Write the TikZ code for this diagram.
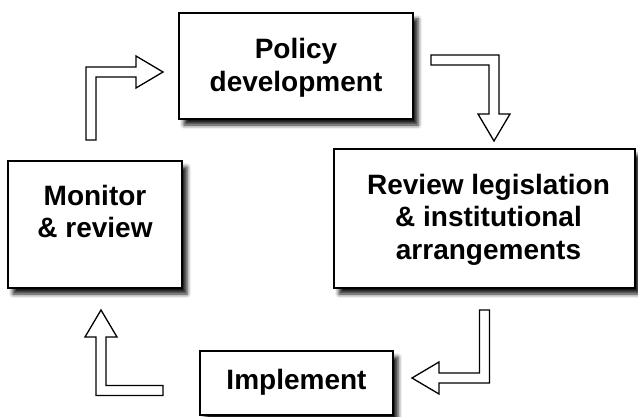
\documentclass[tikz,border=0pt]{standalone}
\usepackage{fontspec}
\setmainfont{Liberation Sans}
\usetikzlibrary{calc,shadows.blur}

\begin{document}
\begin{tikzpicture}[x=1pt,y=1pt]
        \tikzstyle{stagebox}=[draw,line width=1.8pt,fill=white,inner sep=0pt,outer sep=0pt,
            blur shadow={shadow xshift=5pt,shadow yshift=-6pt,shadow blur radius=4pt,shadow opacity=90}]
        \tikzstyle{stagetext}=[align=center,inner sep=0pt,
            font=\bfseries\fontsize{28}{32.5}\selectfont]
        % hollow arrow: first leg up (#1), then right (#2)
        \tikzset{pics/elbow/.style 2 args={code={
            \filldraw[fill=white,line width=1.3pt,line join=miter]
                (-5,0) -- (-5,#1+5) -- (#2-27,#1+5) -- (#2-27,#1+16) -- (#2,#1)
                -- (#2-27,#1-16) -- (#2-27,#1-5) -- (5,#1-5) -- (5,0) -- cycle;
        }}}

        \useasboundingbox (0,0) rectangle (638,-417);

        %% Draw the four stages
        \node [stagebox,minimum width=234,minimum height=106] (policy) at (296,-66) {};
        \node [stagebox,minimum width=301,minimum height=139] (review) at (484.5,-218.5) {};
        \node [stagebox,minimum width=193,minimum height=64] (implement) at (296.5,-383) {};
        \node [stagebox,minimum width=174,minimum height=127] (monitor) at (95,-224.5) {};

        \node [stagetext] (policytxt) at ($(policy.center)+(0,-2)$) {Policy\\development};
        \node [stagetext] (reviewtxt) at ($(review.center)+(4,-1)$) {Review legislation\\\& institutional\\arrangements};
        \node [stagetext] (implementtxt) at ($(implement.center)+(0,1)$) {Implement};
        \node [stagetext] (monitortxt) at ($(monitor.center)+(0,13)$) {Monitor\\\& review};

        %% Draw the arrows between stages
        \coordinate (s1) at ($(monitor.north)+(-4,21)$);
        \coordinate (s2) at ($(policy.east)+(18,6)$);
        \coordinate (s3) at ($(review.south)+(0,-22)$);
        \coordinate (s4) at ($(implement.west)+(-37,-7.5)$);

        \pic at (s1) {elbow={68}{72}};
        \pic [rotate=-90] at (s2) {elbow={63}{81}};
        \pic [rotate=180] at (s3) {elbow={68}{72.5}};
        \pic [rotate=90] at (s4) {elbow={62}{80.5}};

    \end{tikzpicture}
\end{document}
